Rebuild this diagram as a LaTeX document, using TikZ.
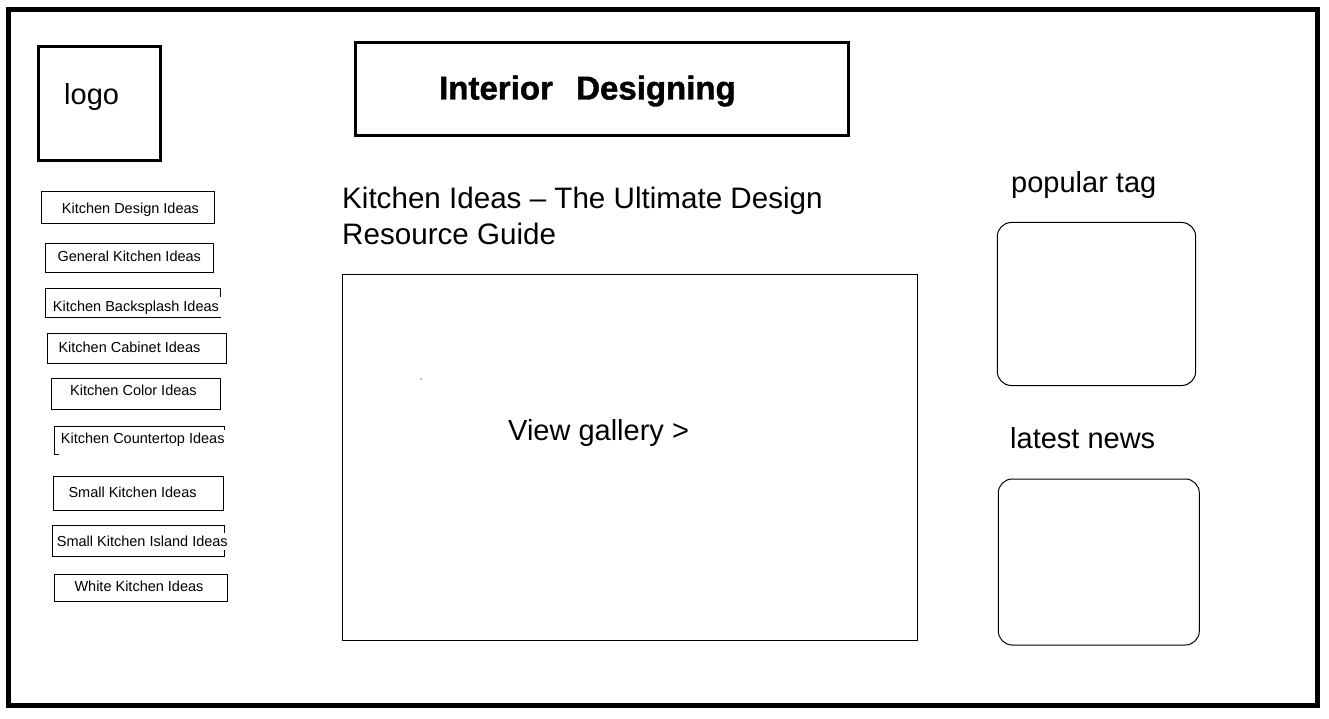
\documentclass[tikz,border=0pt]{standalone}
\usepackage{fontspec}
\setmainfont{Liberation Sans}
\newfontfamily\titlefont[FakeBold=1.3]{Liberation Sans Bold}
\usetikzlibrary{positioning}

\begin{document}
\begin{tikzpicture}[x=1pt,y=-1pt,
        pageframe/.style={line width=5pt},
        heavybox/.style={line width=3pt},
        thinbox/.style={line width=1pt},
        sidebox/.style={line width=1pt,rounded corners=14pt},
        menutext/.style={anchor=base west,inner xsep=2.5pt,inner ysep=3pt,fill=white,font=\fontsize{14.5}{17}\selectfont},
        bigtext/.style={anchor=base west,inner sep=0pt,font=\fontsize{29}{35}\selectfont}]
                \useasboundingbox (0,0) rectangle (1329,719);
                \draw[pageframe] (8.5,9.5) rectangle (1317.5,705.5);
                % header
                \draw[heavybox] (38,47) rectangle (160,161);
                \node[bigtext] (logo) at (64,104.5) {logo};
                \draw[heavybox] (355,43) rectangle (848,136);
                \node[anchor=base west,inner sep=0pt,font=\fontsize{33}{38}\titlefont] (title) at (439,99.5) {Interior\ \ \hspace{5pt}Designing};
                % menu
                \draw[thinbox] (41.7,191.7) rectangle (214,223.3);
                \draw[thinbox] (45,243.3) rectangle (213.3,272.3);
                \draw[thinbox] (45,288.3) rectangle (220.7,317.7);
                \draw[thinbox] (47.3,333.3) rectangle (226.7,363.3);
                \draw[thinbox] (51.3,378.3) rectangle (220.7,409.3);
                \draw[thinbox] (59.3,454) -- (54.3,454) -- (54.3,426) -- (224.3,426) -- (224.3,430);
                \draw[thinbox] (53.3,476.7) rectangle (223.3,510);
                \draw[thinbox] (52.3,525.7) rectangle (224.3,556.7);
                \draw[thinbox] (54,574.3) rectangle (227.7,601.7);
                \node[menutext] (m1) at (59.2,213.3) {Kitchen Design Ideas};
                \node[menutext] (m2) at (54.8,261.7) {General Kitchen Ideas};
                \node[menutext] (m3) at (50.2,311) {Kitchen Backsplash Ideas};
                \node[menutext] (m4) at (55.8,352.7) {Kitchen Cabinet Ideas};
                \node[menutext] (m5) at (67.5,395) {Kitchen Color Ideas};
                \node[menutext] (m6) at (58.2,443.3) {Kitchen Countertop Ideas};
                \node[menutext] (m7) at (65.8,497.3) {Small Kitchen Ideas};
                \node[menutext] (m8) at (54.2,546.7) {Small Kitchen Island Ideas};
                \node[menutext] (m9) at (71.8,591) {White Kitchen Ideas};
                % main column
                \node[bigtext,font=\fontsize{29.6}{35}\selectfont] (head) at (342,209) {Kitchen Ideas – The Ultimate Design};
                \node[bigtext,font=\fontsize{29.6}{35}\selectfont] (headb) at (342,244) {Resource Guide};
                \draw[thinbox] (342,274) rectangle (917,640);
                \fill (421,379) circle (0.6pt);
                \node[bigtext] (gallery) at (508,440) {View gallery >};
                % right column
                \node[bigtext] (poptag) at (1011,193) {popular tag};
                \draw[sidebox] (997.3,222.5) rectangle (1195.7,385.5);
                \node[bigtext] (news) at (1010,448.5) {latest news};
                \draw[sidebox] (998.3,479) rectangle (1199.3,645);
            \end{tikzpicture}
\end{document}
